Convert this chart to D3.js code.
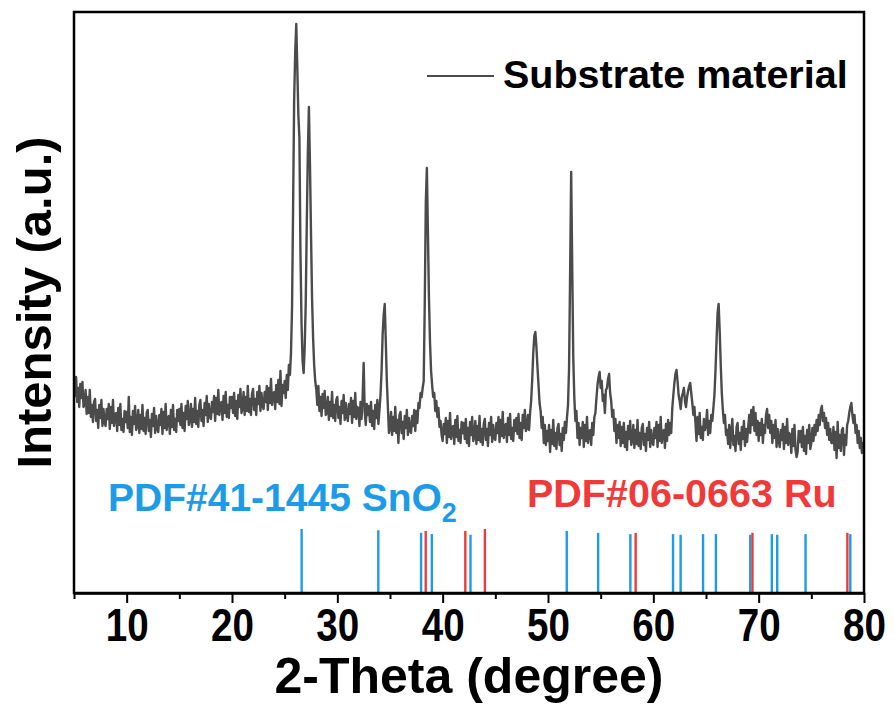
<!DOCTYPE html>
<html>
<head>
<meta charset="utf-8">
<script src="https://cdn.jsdelivr.net/npm/d3@7"></script>
<style>
  body { margin: 0; background: #fff; }
  svg { display: block; }
  text { font-family: "Liberation Sans", Arial, Helvetica, sans-serif; font-weight: bold; }
</style>
</head>
<body>
<svg id="chart" width="895" height="708"></svg>
<script>
// XRD scan: 2-theta from 5 to 80 degrees, 0.1 degree step
const thetaStart = 5;
const thetaStep = 0.1;
const intensity = [
  214,197,216,191,205,186,209,195,211,186,
  188,203,179,196,180,203,176,188,171,191,
  194,172,183,165,188,175,193,167,184,171,
  167,184,174,189,164,186,170,193,167,179,
  180,162,185,168,189,163,174,161,182,171,
  181,165,196,161,176,158,182,169,187,163,
  167,183,160,178,164,188,162,175,159,180,
  183,162,173,156,179,167,185,160,177,164,
  161,178,168,184,159,181,165,189,163,175,
  177,159,183,166,188,163,174,161,183,172,
  184,168,189,165,180,162,187,174,192,168,
  173,189,166,184,171,195,169,182,166,188,
  193,172,183,167,190,178,197,171,189,176,
  174,191,181,197,172,195,179,203,178,190,
  191,173,197,180,201,176,188,175,196,185,
  196,180,200,177,192,174,198,186,204,180,
  185,201,178,196,182,207,181,194,178,199,
  204,183,194,178,201,189,207,182,200,187,
  184,201,191,207,183,205,190,214,188,200,
  201,184,208,191,213,189,222,187,208,200,
  212,195,218,203,228,218,240,285,385,493,
  540,569,525,478,455,340,270,232,220,245,
  290,370,440,486,430,360,295,255,228,212,
  204,188,207,182,196,177,199,185,202,178,
  180,196,173,191,177,201,175,188,172,193,
  196,175,186,169,192,180,198,173,190,177,
  172,189,179,195,170,192,176,200,174,186,
  185,167,191,174,195,230,181,168,189,178,
  187,171,191,167,182,164,188,175,193,169,
  183,198,222,258,278,289,252,212,186,160,
  165,181,158,176,162,186,160,173,150,178,
  181,160,171,154,177,165,183,158,175,162,
  160,177,167,183,162,182,170,190,185,200,
  196,205,212,290,390,425,360,295,250,222,
  208,196,200,182,192,176,185,166,172,158,
  152,169,159,175,150,172,156,180,154,166,
  167,149,173,156,177,152,163,150,171,160,
  170,154,174,150,165,147,171,158,176,152,
  156,172,149,167,153,177,151,164,148,169,
  174,153,164,147,170,158,176,151,168,155,
  153,170,160,176,151,173,157,181,155,167,
  169,151,175,158,179,154,165,152,173,162,
  175,159,179,155,170,153,178,165,183,162,
  165,178,163,180,192,213,240,257,261,246,
  226,208,190,182,165,176,150,168,148,162,
  152,168,141,163,149,173,147,160,144,165,
  169,148,159,142,165,153,171,160,175,188,
  225,320,421,325,235,195,172,182,155,170,
  148,165,155,171,146,168,152,176,150,162,
  163,148,170,158,176,180,195,208,216,221,
  205,212,192,198,180,203,205,214,219,200,
  192,176,183,162,174,150,168,155,171,147,
  166,150,170,146,161,143,167,154,172,148,
  152,168,145,163,149,173,147,160,144,165,
  169,148,159,142,165,153,171,146,163,150,
  148,165,155,171,146,168,152,176,150,162,
  163,145,169,152,173,158,170,160,185,198,
  210,219,223,212,198,192,184,196,200,205,
  192,186,196,202,207,210,200,190,178,186,
  170,152,176,159,180,155,166,153,174,163,
  168,183,158,172,160,178,172,185,198,222,
  252,280,289,262,228,200,183,170,178,158,
  163,149,168,145,160,174,148,157,142,166,
  170,149,160,143,166,154,172,147,164,151,
  165,178,160,183,168,186,162,180,158,172,
  152,170,158,174,150,168,160,178,184,165,
  178,160,172,150,168,155,173,146,164,152,
  146,163,153,169,144,166,150,174,148,160,
  158,140,164,147,168,143,136,141,162,151,
  162,146,166,142,157,139,163,150,168,144,
  150,165,152,168,158,173,162,178,168,183,
  187,172,180,165,175,158,170,153,164,150,
  150,166,143,161,135,171,145,158,142,163,
  165,138,158,148,168,172,180,186,190,178,
  170,178,160,168,150,162,145,155,140,150,
  146
];

// Reference patterns (stick positions and relative intensities)
const sno2Theta = [26.61, 33.89, 37.95, 38.97, 42.64, 51.78, 54.76, 57.82, 61.87, 62.59, 64.72, 65.94, 69.20, 71.25, 71.76, 74.45, 78.70];
const sno2Rel   = [100, 98, 94, 92, 91, 97, 94, 92, 92, 91, 92, 92, 91, 92, 91, 92, 92];
const ruTheta = [38.39, 42.15, 44.01, 58.32, 69.41, 78.42];
const ruRel   = [97, 97, 100, 94, 94, 94];

const majorTicks = [10, 20, 30, 40, 50, 60, 70, 80];
const minorTicks = [5, 15, 25, 35, 45, 55, 65, 75];

const seriesName = "Substrate material";
const sno2Label = "PDF#41-1445 SnO";
const ruLabel = "PDF#06-0663 Ru";

const lineColor = "#4b4b4b";
const blue = "#1c9be8";
const red = "#f03a3a";

const svg = d3.select("#chart");
const plotL = 74, plotR = 864, plotT = 12, plotB = 593;

const x = d3.scaleLinear().domain([5, 80]).range([plotL, plotR]);
const y = d3.scaleLinear().domain([0, 581]).range([plotB, plotT]);
const yStick = d3.scaleLinear().domain([0, 100]).range([plotB, 529]);

const data = intensity.map((v, i) => ({ t: thetaStart + i * thetaStep, v }));

svg.append("defs").append("clipPath").attr("id", "plot")
  .append("rect").attr("x", plotL).attr("y", plotT)
  .attr("width", plotR - plotL).attr("height", plotB - plotT);

// diffraction curve
svg.append("path")
  .datum(data)
  .attr("clip-path", "url(#plot)")
  .attr("fill", "none")
  .attr("stroke", lineColor)
  .attr("stroke-width", 2.4)
  .attr("stroke-linejoin", "round")
  .attr("d", d3.line().x(d => x(d.t)).y(d => y(d.v)));

// reference sticks
const sticks = svg.append("g").attr("stroke-width", 2.4);
sticks.selectAll("line.sno2").data(sno2Theta).join("line")
  .attr("class", "sno2")
  .attr("x1", d => x(d)).attr("x2", d => x(d))
  .attr("y1", yStick(0)).attr("y2", (d, i) => yStick(sno2Rel[i]))
  .attr("stroke", blue);
sticks.selectAll("line.ru").data(ruTheta).join("line")
  .attr("class", "ru")
  .attr("x1", d => x(d)).attr("x2", d => x(d))
  .attr("y1", yStick(0)).attr("y2", (d, i) => yStick(ruRel[i]))
  .attr("stroke", red);

// frame
svg.append("rect")
  .attr("x", plotL).attr("y", plotT)
  .attr("width", plotR - plotL).attr("height", plotB - plotT)
  .attr("fill", "none").attr("stroke", "#000").attr("stroke-width", 2.5);

// bottom axis: minor then major ticks
const minorAxis = d3.axisBottom(x).tickValues(minorTicks).tickSize(6).tickSizeOuter(0).tickFormat("");
const gMinor = svg.append("g").attr("transform", `translate(0,${plotB})`).call(minorAxis);
gMinor.select(".domain").remove();
gMinor.selectAll("line").attr("stroke", "#000").attr("stroke-width", 2);

const majorAxis = d3.axisBottom(x).tickValues(majorTicks).tickSize(10).tickSizeOuter(0).tickPadding(0);
const gMajor = svg.append("g").attr("transform", `translate(0,${plotB})`).call(majorAxis);
gMajor.select(".domain").attr("stroke", "#000").attr("stroke-width", 2.5);
gMajor.selectAll("line").attr("stroke", "#000").attr("stroke-width", 2);
// tall, narrow tick numerals
gMajor.selectAll("text")
  .attr("y", 48).attr("dy", null)
  .attr("transform", "scale(0.84,1)")
  .attr("font-size", 46).attr("font-weight", "bold").attr("fill", "#000")
  .attr("font-family", '"Liberation Sans", Arial, sans-serif');

// axis titles
svg.append("text")
  .attr("x", (plotL + plotR) / 2).attr("y", 693)
  .attr("text-anchor", "middle").attr("font-size", 50)
  .text("2-Theta (degree)");
svg.append("text")
  .attr("transform", `translate(51,${(plotT + plotB) / 2}) rotate(-90)`)
  .attr("text-anchor", "middle").attr("font-size", 49)
  .text("Intensity (a.u.)");

// legend
svg.append("line")
  .attr("x1", 427).attr("x2", 494).attr("y1", 76).attr("y2", 76)
  .attr("stroke", lineColor).attr("stroke-width", 2);
svg.append("text")
  .attr("x", 503).attr("y", 88).attr("font-size", 39.5)
  .text(seriesName);

// pattern labels
const tSn = svg.append("text").attr("x", 108).attr("y", 511)
  .attr("font-size", 39).attr("fill", blue);
tSn.append("tspan").text(sno2Label);
tSn.append("tspan").attr("font-size", 27).attr("dy", 11).text("2");
svg.append("text").attr("x", 527).attr("y", 507)
  .attr("font-size", 39.5).attr("fill", red)
  .text(ruLabel);
</script>
</body>
</html>
